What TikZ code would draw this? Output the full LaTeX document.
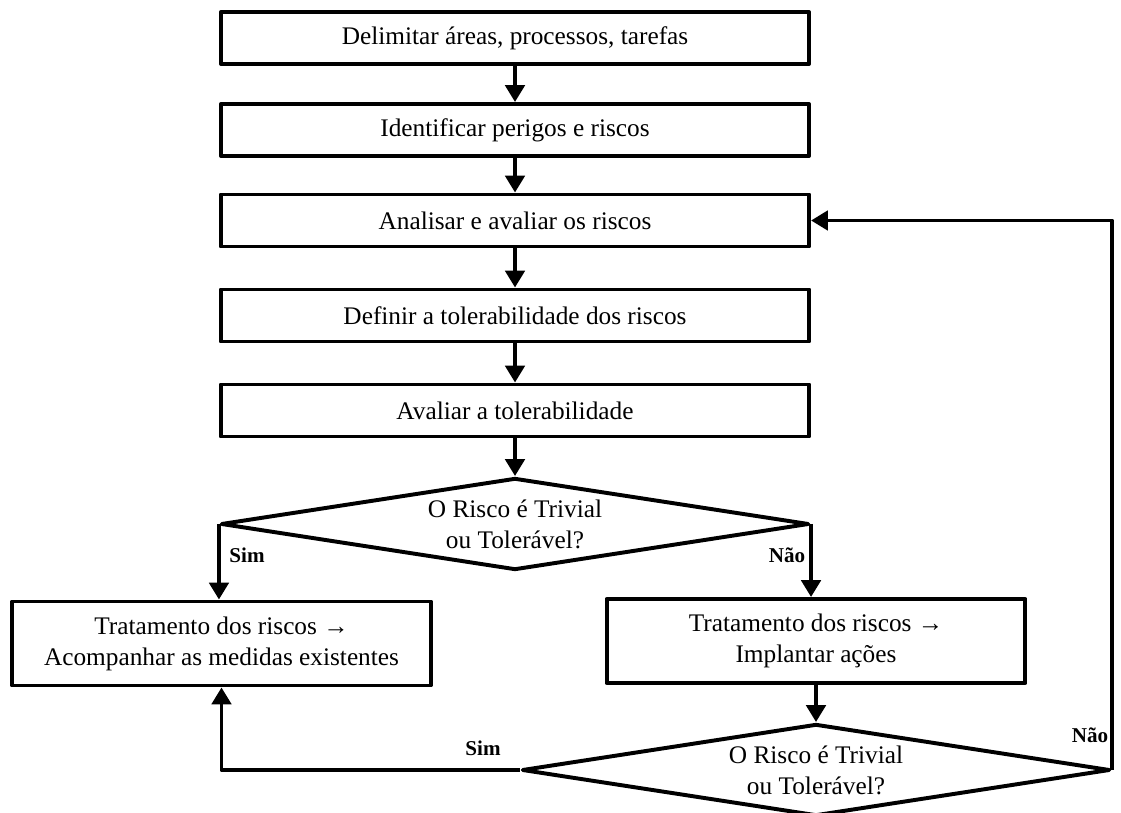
\documentclass[tikz,border=0pt]{standalone}
\usepackage{fontspec}
\setmainfont{Liberation Serif}
\usetikzlibrary{arrows.meta,shapes.geometric}

\begin{document}
\begin{tikzpicture}[x=0.025cm, y=-0.025cm, line width=2.8pt, line join=round,
    every node/.style={font=\fontsize{18}{22}\selectfont},
    stepbox/.style={draw, rectangle, minimum width=14.7cm, minimum height=1.3cm, inner sep=0pt},
    treatbox/.style={draw, rectangle, minimum width=10.47cm, minimum height=2.1cm, inner sep=0pt, align=center},
    decision/.style={draw, diamond, aspect=6, inner sep=0pt, align=center, minimum width=14.7cm, minimum height=2.3cm},
    answer/.style={font=\fontsize{15}{18}\selectfont\bfseries},
    flow/.style={-{Triangle[length=0.42cm,width=0.48cm]}}]
        \useasboundingbox (0,0) rectangle (1121,813);
        \foreach \i/\y/\txt in {1/38/{Delimitar áreas, processos, tarefas},
                                2/130/{Identificar perigos e riscos},
                                3/220.5/{Analisar e avaliar os riscos},
                                4/315.5/{Definir a tolerabilidade dos riscos},
                                5/410.5/{Avaliar a tolerabilidade}} {
            \node[stepbox] (b\i) at (515,\y) {\txt};
        }
        \node[decision] (d1) at (515,524) {O Risco é Trivial\\ou Tolerável?};
        \node[treatbox] (tl) at (221.5,643.5) {Tratamento dos riscos →\\Acompanhar as medidas existentes};
        \node[treatbox] (tr) at (816,641) {Tratamento dos riscos →\\Implantar ações};
        \node[decision] (d2) at (816,770) {O Risco é Trivial\\ou Tolerável?};
        \foreach \a/\b in {b1/b2,b2/b3,b3/b4,b4/b5,b5/d1,tr/d2} {
            \draw[flow] (\a) -- (\b);
        }
        \draw[flow] (d1.west) -- (d1.west |- tl.north);
        \draw[flow] (d1.east) -- (d1.east |- tr.north);
        \draw[flow] (d2.west) -| (tl.south);
        \draw[flow] (d2.east) |- (b3.east);
        \node[answer] (sim1) at (247,555) {Sim};
        \node[answer] (nao1) at (787,555) {Não};
        \node[answer] (sim2) at (483,748) {Sim};
        \node[answer] (nao2) at (1090,735) {Não};
    \end{tikzpicture}
\end{document}
